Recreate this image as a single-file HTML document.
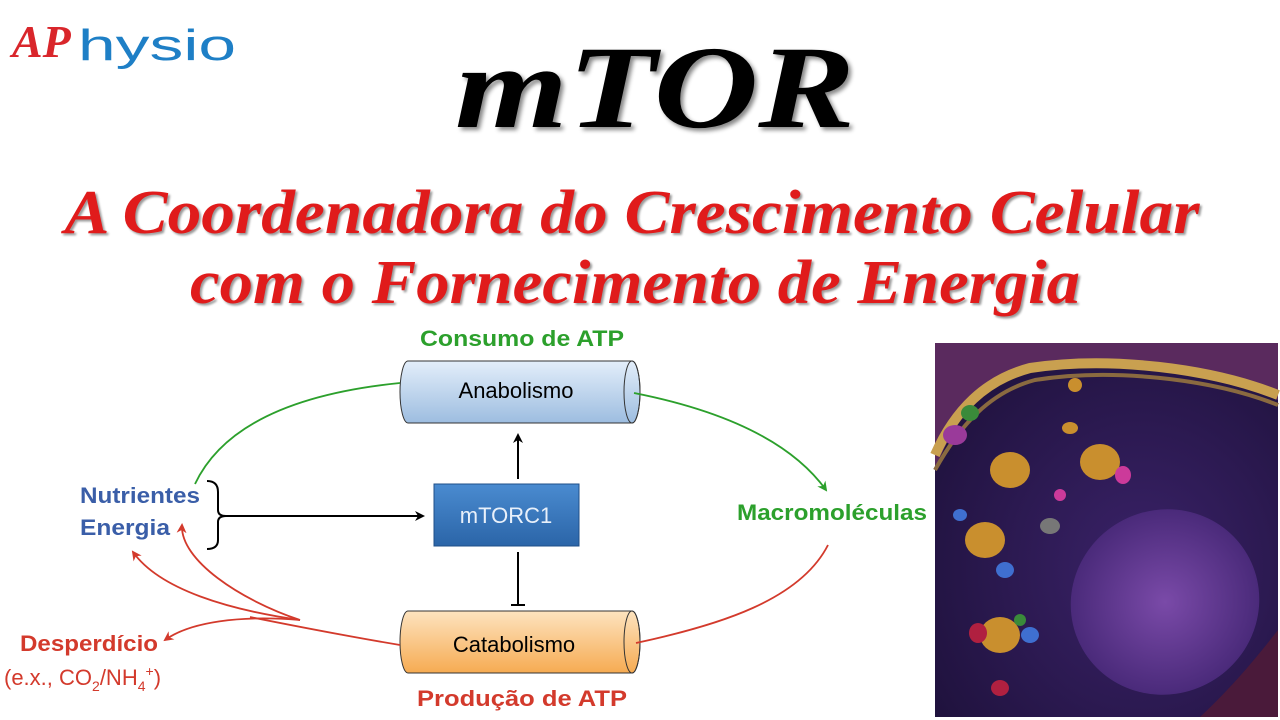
<!DOCTYPE html>
<html><head><meta charset="utf-8"><style>html,body{margin:0;padding:0;background:#fff;width:1280px;height:720px;overflow:hidden}</style></head>
<body>
<svg width="1280" height="720" viewBox="0 0 1280 720" xmlns="http://www.w3.org/2000/svg">
<defs>
<linearGradient id="gb" x1="0" y1="0" x2="0" y2="1"><stop offset="0" stop-color="#e3eefa"/><stop offset="1" stop-color="#9dbde0"/></linearGradient>
<linearGradient id="go" x1="0" y1="0" x2="0" y2="1"><stop offset="0" stop-color="#fde3bf"/><stop offset="1" stop-color="#f6ab52"/></linearGradient>
<linearGradient id="gm" x1="0" y1="0" x2="0" y2="1"><stop offset="0" stop-color="#4a8bd0"/><stop offset="1" stop-color="#2b65a8"/></linearGradient>
<radialGradient id="bg" cx="0.6" cy="0.6" r="0.8"><stop offset="0" stop-color="#3a2268"/><stop offset="1" stop-color="#1c1038"/></radialGradient>
<radialGradient id="nuc" cx="0.5" cy="0.5" r="0.5"><stop offset="0" stop-color="#7a4aa8"/><stop offset="1" stop-color="#4a2a7a"/></radialGradient>
<marker id="ag" markerWidth="10" markerHeight="10" refX="8" refY="5" orient="auto" markerUnits="userSpaceOnUse"><path d="M0,0 L10,5 L0,10 L3,5z" fill="#2ca02c"/></marker>
<marker id="ar" markerWidth="10" markerHeight="10" refX="8" refY="5" orient="auto" markerUnits="userSpaceOnUse"><path d="M0,0 L10,5 L0,10 L3,5z" fill="#d33a2c"/></marker>
<marker id="ak" markerWidth="10" markerHeight="10" refX="8" refY="5" orient="auto" markerUnits="userSpaceOnUse"><path d="M0,0 L10,5 L0,10 L3,5z" fill="#000"/></marker>
</defs>
<rect width="1280" height="720" fill="#fff"/>
<!-- logo -->
<text x="12" y="57" font-family="Liberation Serif,serif" font-style="italic" font-weight="bold" font-size="46" fill="#d9262b">AP</text>
<text x="78" y="60" font-family="Liberation Sans,sans-serif" font-size="44" fill="#1e7fc6" textLength="158" lengthAdjust="spacingAndGlyphs">hysio</text>
<!-- title -->
<text x="655" y="127" text-anchor="middle" font-family="Liberation Serif,serif" font-style="italic" font-weight="bold" font-size="118" fill="#000" textLength="400" lengthAdjust="spacingAndGlyphs" style="filter:drop-shadow(3px 3px 2px #888)">mTOR</text>
<text x="632" y="233" text-anchor="middle" font-family="Liberation Serif,serif" font-style="italic" font-weight="bold" font-size="62" fill="#e01b1b" textLength="1135" lengthAdjust="spacingAndGlyphs" style="filter:drop-shadow(2px 2px 1px #999)">A Coordenadora do Crescimento Celular</text>
<text x="635" y="303" text-anchor="middle" font-family="Liberation Serif,serif" font-style="italic" font-weight="bold" font-size="62" fill="#e01b1b" textLength="890" lengthAdjust="spacingAndGlyphs" style="filter:drop-shadow(2px 2px 1px #999)">com o Fornecimento de Energia</text>
<!-- labels -->
<g font-family="Liberation Sans,sans-serif" font-weight="bold" font-size="22">
<text x="522" y="346" text-anchor="middle" fill="#2ca02c" textLength="204" lengthAdjust="spacingAndGlyphs">Consumo de ATP</text>
<text x="522" y="706" text-anchor="middle" fill="#d33a2c" textLength="210" lengthAdjust="spacingAndGlyphs">Produção de ATP</text>
<text x="832" y="520" text-anchor="middle" fill="#2ca02c" textLength="190" lengthAdjust="spacingAndGlyphs">Macromoléculas</text>
<text x="80" y="503" fill="#3a5ea8" textLength="120" lengthAdjust="spacingAndGlyphs">Nutrientes</text>
<text x="80" y="535" fill="#3a5ea8" textLength="90" lengthAdjust="spacingAndGlyphs">Energia</text>
<text x="20" y="651" fill="#d33a2c" textLength="138" lengthAdjust="spacingAndGlyphs">Desperdício</text>
</g>
<text x="4" y="685" font-family="Liberation Sans,sans-serif" font-size="22" fill="#d33a2c">(e.x., CO<tspan font-size="14" dy="6">2</tspan><tspan dy="-6">/NH</tspan><tspan font-size="14" dy="6">4</tspan><tspan font-size="14" dy="-15">+</tspan><tspan dy="9">)</tspan></text>
<!-- cylinders -->
<path d="M408,361 H632 A8,31 0 0 1 632,423 H408 A8,31 0 0 1 408,361z" fill="url(#gb)" stroke="#333" stroke-width="1"/>
<ellipse cx="632" cy="392" rx="8" ry="31" fill="none" stroke="#333"/>
<text x="516" y="398" text-anchor="middle" font-family="Liberation Sans,sans-serif" font-size="22">Anabolismo</text>
<path d="M408,611 H632 A8,31 0 0 1 632,673 H408 A8,31 0 0 1 408,611z" fill="url(#go)" stroke="#333" stroke-width="1"/>
<ellipse cx="632" cy="642" rx="8" ry="31" fill="none" stroke="#333"/>
<text x="514" y="652" text-anchor="middle" font-family="Liberation Sans,sans-serif" font-size="22">Catabolismo</text>
<!-- mTORC1 -->
<rect x="434" y="484" width="145" height="62" fill="url(#gm)" stroke="#1f4f88"/>
<text x="506" y="523" text-anchor="middle" font-family="Liberation Sans,sans-serif" font-size="22" fill="#e8f0fa">mTORC1</text>
<!-- black connectors -->
<line x1="518" y1="479" x2="518" y2="435" stroke="#000" stroke-width="2" marker-end="url(#ak)"/>
<line x1="518" y1="552" x2="518" y2="605" stroke="#000" stroke-width="2"/>
<line x1="511" y1="605" x2="525" y2="605" stroke="#000" stroke-width="2"/>
<path d="M207,481 Q218,481 218,492 V510 Q218,516 226,516 Q218,516 218,522 V540 Q218,549 207,549" fill="none" stroke="#000" stroke-width="2"/>
<line x1="226" y1="516" x2="423" y2="516" stroke="#000" stroke-width="2" marker-end="url(#ak)"/>
<!-- green -->
<path d="M195,484 C230,410 330,390 400,383" fill="none" stroke="#2ca02c" stroke-width="1.8"/>
<path d="M634,393 C720,410 790,440 826,490" fill="none" stroke="#2ca02c" stroke-width="1.8" marker-end="url(#ag)"/>
<!-- red -->
<path d="M828,545 C800,600 720,625 636,643" fill="none" stroke="#d33a2c" stroke-width="1.8"/>
<path d="M400,645 C340,635 290,625 250,617" fill="none" stroke="#d33a2c" stroke-width="1.8"/>
<path d="M300,620 C240,600 180,560 182,525" fill="none" stroke="#d33a2c" stroke-width="1.8" marker-end="url(#ar)"/>
<path d="M300,620 C230,610 160,590 133,552" fill="none" stroke="#d33a2c" stroke-width="1.8" marker-end="url(#ar)"/>
<path d="M300,620 C240,615 190,622 165,640" fill="none" stroke="#d33a2c" stroke-width="1.8" marker-end="url(#ar)"/>
<!-- cell image -->
<g>
<rect x="935" y="343" width="343" height="374" fill="url(#bg)"/>
<path d="M935,343 H1278 V400 C1200,370 1100,360 1020,370 C980,380 955,420 935,470z" fill="#5a2a5e"/>
<path d="M935,455 C955,410 985,380 1030,368 C1110,356 1210,368 1278,395" fill="none" stroke="#c9a050" stroke-width="10"/>
<path d="M935,470 C960,425 990,392 1035,380 C1110,368 1210,378 1278,405" fill="none" stroke="#8a6a40" stroke-width="4"/>
<ellipse cx="1165" cy="602" rx="95" ry="92" fill="url(#nuc)" transform="rotate(-30 1165 602)"/>
<path d="M1200,717 C1240,680 1270,640 1278,630 V717z" fill="#4a1a3a"/>
<g fill="#c98f2e">
<ellipse cx="1010" cy="470" rx="20" ry="18"/><ellipse cx="1100" cy="462" rx="20" ry="18"/>
<ellipse cx="985" cy="540" rx="20" ry="18"/><ellipse cx="1000" cy="635" rx="20" ry="18"/>
<ellipse cx="1075" cy="385" rx="7" ry="7"/><ellipse cx="1070" cy="428" rx="8" ry="6"/>
</g>
<g fill="#cc3a9a"><ellipse cx="1123" cy="475" rx="8" ry="9"/><ellipse cx="1060" cy="495" rx="6" ry="6"/></g>
<g fill="#3f6fd0"><ellipse cx="1005" cy="570" rx="9" ry="8"/><ellipse cx="1030" cy="635" rx="9" ry="8"/><ellipse cx="960" cy="515" rx="7" ry="6"/></g>
<g fill="#9a3a9a"><ellipse cx="955" cy="435" rx="12" ry="10"/></g>
<g fill="#3a8a3a"><ellipse cx="970" cy="413" rx="9" ry="8"/><ellipse cx="1020" cy="620" rx="6" ry="6"/></g>
<g fill="#b02040"><ellipse cx="978" cy="633" rx="9" ry="10"/><ellipse cx="1000" cy="688" rx="9" ry="8"/></g>
<ellipse cx="1050" cy="526" rx="10" ry="8" fill="#777"/>
</g>
</svg>
</body></html>
